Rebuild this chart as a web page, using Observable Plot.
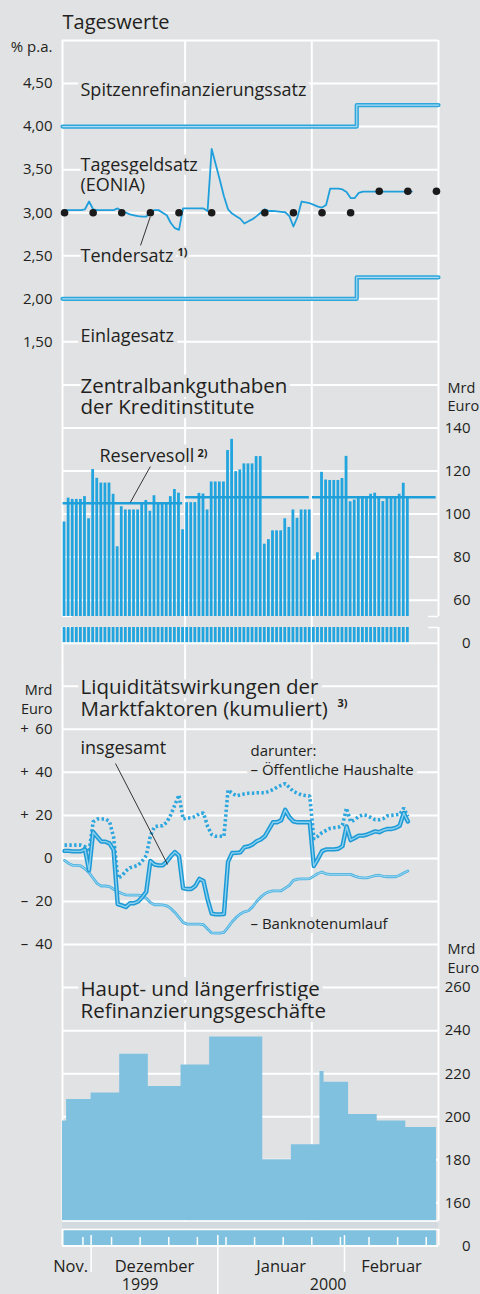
<!DOCTYPE html>
<html><head><meta charset="utf-8">
<script src="https://cdn.jsdelivr.net/npm/d3@7"></script>
<script src="https://cdn.jsdelivr.net/npm/@observablehq/plot@0.6"></script>
<style>
html,body{margin:0;padding:0;background:#e1e2e4;}
#chart{position:relative;width:480px;height:1294px;overflow:hidden;background:#e1e2e4;}
#chart svg{position:absolute;left:0;overflow:visible;}
</style></head><body><div id="chart"></div>
<script>
// ---------------- data ----------------
const startDate = "1999-11-24";           // first day of the daily series
// Tagesgeldsatz (EONIA), % p.a., daily from 24 Nov 1999
const eonia = [3.03,3.03,3.03,3.03,3.03,3.04,3.13,3.04,3.03,3.03,
 3.03,3.03,3.03,3.05,3.02,3.00,2.98,2.97,2.96,2.955,
 2.955,3.01,3.03,3.03,3.00,2.97,2.88,2.82,2.80,3.05,
 3.05,3.05,3.05,3.05,3.05,3.02,3.74,3.56,3.38,3.19,
 3.04,2.99,2.96,2.93,2.875,2.90,2.925,2.96,3.00,3.04,
 3.02,3.02,3.015,3.01,3.005,2.96,2.84,2.95,3.13,3.12,
 3.11,3.09,3.07,3.06,3.09,3.28,3.28,3.28,3.27,3.24,
 3.17,3.17,3.23,3.245,3.245,3.245,3.245,3.245,3.245,3.245,
 3.245,3.245,3.245,3.245,3.245,3.245];
// Tendersatz
const tenderDates = ["1999-11-24","1999-12-01","1999-12-08","1999-12-15","1999-12-22","1999-12-30",
 "2000-01-12","2000-01-19","2000-01-26","2000-02-02","2000-02-09","2000-02-16","2000-02-23"];
const tenderRates = [3.00,3.00,3.00,3.00,3.00,3.00,3.00,3.00,3.00,3.00,3.25,3.25,3.25];
// Spitzenrefinanzierungssatz / Einlagesatz
const rateDates = ["1999-11-24","2000-02-04","2000-02-24"];
const spitzen = [4.00,4.25,4.25];
const einlage = [2.00,2.25,2.25];
const rateTicks = [1.5,2,2.5,3,3.5,4,4.5];

// Zentralbankguthaben der Kreditinstitute, Mrd Euro, daily
const reserves = [96.3,107.4,106.8,106.8,106.8,108.1,97.8,120.7,116.6,114.4,
 114.4,114.4,109.2,84.8,103.4,101.9,101.9,101.9,101.9,104.7,
 106.3,101.3,108.5,104.5,104.5,104.5,108.1,111.4,109.7,92.7,
 105.3,105.3,105.3,109.6,109.3,101.9,114.9,114.9,114.9,114.9,
 129.5,134.7,119.7,120.5,123.3,123.3,123.3,126.7,126.7,86.0,
 88.1,92.2,92.2,92.2,97.8,93.8,101.9,98.0,101.9,101.9,
 101.9,78.6,82.0,119.4,115.8,115.6,115.6,115.6,116.5,126.8,
 105.7,106.5,107.3,107.5,107.5,109.2,109.7,107.5,105.8,107.3,
 107.3,107.3,109.2,114.3,107.3];
// Reservesoll per maintenance period
const periodStarts = ["1999-11-24","1999-12-24","2000-01-24"];
const periodEnds   = ["1999-12-24","2000-01-24","2000-02-24"];
const reserveReq   = [105.0,107.8,107.8];
const reserveTicks = [60,80,100,120,140];

// Liquiditätswirkungen der Marktfaktoren (kumuliert), Mrd Euro, daily
const insgesamt = [3.5,3.5,3.3,3.3,3.3,4.2,-5.5,12.3,10.0,7.8,
 7.8,7.0,4.0,-21.2,-21.8,-22.6,-20.8,-20.8,-20.0,-18.0,
 -15.5,-1.2,-2.8,-3.2,-3.2,-1.5,1.0,3.0,1.2,-13.8,
 -14.2,-14.2,-12.8,-9.5,-10.5,-19.0,-25.6,-26.0,-26.0,-25.8,
 -1.5,2.5,2.6,2.8,5.2,5.6,6.5,8.0,8.8,10.3,
 13.5,16.8,16.8,17.7,22.6,19.2,17.2,16.8,16.8,16.8,
 16.8,-3.5,-0.2,3.4,4.2,4.2,4.2,4.5,5.7,14.9,
 8.5,9.5,10.6,10.6,11.1,11.8,12.6,12.2,13.1,13.7,
 13.7,14.2,15.2,21.1,17.2];
const haushalte = [6.2,6.2,6.2,6.2,6.2,5.5,3.0,17.0,18.3,18.3,
 18.3,17.2,10.0,-9.0,-8.2,-5.8,-4.3,-3.8,-3.2,-1.2,
 1.4,10.5,14.7,15.2,15.2,16.8,20.3,24.9,29.5,18.3,
 18.8,18.8,19.5,20.8,21.1,14.9,11.1,10.3,10.3,10.3,
 31.8,30.3,29.1,29.5,30.0,30.3,30.3,30.5,30.5,30.5,
 31.1,32.0,33.1,34.0,34.8,33.0,31.1,30.3,29.5,29.2,
 29.0,9.1,10.3,12.0,13.0,14.0,14.3,14.5,15.5,23.4,
 17.0,18.0,19.5,20.3,19.9,19.0,18.0,18.0,18.5,19.8,
 20.0,20.3,20.5,23.4,19.5];
const banknoten = [-0.9,-2.3,-3.2,-3.2,-3.5,-4.8,-6.6,-9.2,-11.7,-12.8,
 -12.8,-13.1,-14.3,-15.4,-16.3,-16.9,-17.0,-17.0,-17.0,-17.4,
 -18.5,-20.5,-21.5,-21.5,-21.6,-22.0,-23.2,-25.1,-27.4,-29.7,
 -30.5,-30.5,-30.5,-30.5,-30.8,-32.8,-34.6,-34.7,-34.7,-34.3,
 -32.0,-29.4,-27.4,-25.8,-24.8,-24.3,-22.5,-20.0,-18.0,-16.4,
 -15.5,-15.1,-15.1,-15.0,-13.8,-12.5,-10.2,-9.6,-9.5,-9.5,
 -9.4,-8.2,-7.0,-6.3,-7.2,-7.4,-7.4,-7.4,-7.4,-7.4,
 -7.4,-8.2,-8.8,-9.0,-9.0,-8.5,-8.0,-7.8,-8.3,-8.5,
 -8.5,-8.5,-7.8,-6.8,-5.8];
const liqTicks = [-40,-20,0,20,40,60];

// Haupt- und längerfristige Refinanzierungsgeschäfte, Mrd Euro (step values)
const refiStarts = ["1999-11-24","1999-11-25","1999-12-01","1999-12-08","1999-12-15","1999-12-23","1999-12-30",
 "2000-01-12","2000-01-19","2000-01-26","2000-01-27","2000-02-02","2000-02-09","2000-02-16"];
const refiValues = [198,208,211,229,214,224,237,180,187,221,216,201,198,195];
const refiEnd = "2000-02-23T12:00Z";
const refiTicks = [160,180,200,220,240,260];

const monthLabels = ["Nov.","Dezember","Januar","Februar"];
const yearLabels = ["1999","2000"];

// ---------------- layout ----------------
const W = 480, ML = 62, MR = 42;
const G0 = 40, S = 43.05;            // page y of top grid line, grid spacing
const DAY = 864e5;
const parse = s => new Date(s.length === 10 ? s + "T00:00Z" : s);
const t0 = +parse(startDate);
const day = i => new Date(t0 + i * DAY);
const BG = "#e1e2e4", GRID = "#ffffff", INK = "#231f20";
const BLUE = "#22a5de", LIGHT = "#80c1e0";
const FONT = "'Open Sans', 'Noto Sans', sans-serif";

const bounds = [...periodStarts, periodEnds[periodEnds.length - 1]].map(parse);
const inner = bounds.slice(1, -1), edges = [bounds[0], bounds[bounds.length - 1]];

const root = document.getElementById("chart");
function panel(top, height, ref, marks) {
  const [v0, p0, u] = ref; // value v0 sits at page y p0; u = value units per px
  const dom = [v0 + (p0 - (top + height)) * u, v0 + (p0 - top) * u];
  const svg = Plot.plot({
    width: W, height, marginLeft: ML, marginRight: MR, marginTop: 0, marginBottom: 0,
    x: {type: "utc", domain: [day(0), day(92)], axis: null},
    y: {domain: dom, axis: null},
    style: {background: "transparent", fontFamily: FONT, fontSize: "15px", color: INK, overflow: "visible"},
    marks: marks(dom, top)
  });
  svg.style.top = top + "px";
  root.appendChild(svg);
  return svg;
}
const lab = (top, str, px, py, o = {}) => Plot.text([str], {
  text: d => d, frameAnchor: "top-left", dx: px - ML, dy: py - top,
  textAnchor: "start", lineAnchor: "middle", fill: INK, fontSize: 18,
  stroke: BG, strokeWidth: 8, strokeLinejoin: "round", paintOrder: "stroke", ...o
});
const plain = {stroke: null, strokeWidth: 0};
const mid = i => day(i + 0.5);

// ---------- Panel 1: Tageswerte ----------
const rates = rateDates.map((d, i) => ({date: parse(d), spitzen: spitzen[i], einlage: einlage[i]}));
const tender = tenderDates.map((d, i) => ({date: new Date(+parse(d) + DAY / 2), rate: tenderRates[i]}));
panel(0, 363, [3, G0 + 4 * S, 0.5 / S], (dom, top) => [
  Plot.ruleY([...rateTicks, 5], {stroke: GRID, strokeWidth: 2}),
  Plot.ruleX(bounds, {y1: 5, y2: dom[0], stroke: GRID, strokeWidth: 2}),
  lab(top, "Tageswerte", 62, 22, {fontSize: 20, ...plain}),
  lab(top, "% p.a.", 52, 46.5, {fontSize: 15, textAnchor: "end", ...plain}),
  Plot.text(rateTicks, {y: d => d, text: d => d.toFixed(2).replace(".", ","), frameAnchor: "left", dx: -10, textAnchor: "end", fill: INK, fontSize: 15}),
  lab(top, "Spitzenrefinanzierungssatz", 80, 90),
  lab(top, "Tagesgeldsatz\n(EONIA)", 80, 174.5, {lineHeight: 1.11}),
  lab(top, "Tendersatz", 80, 255.5),
  lab(top, "1)", 177, 252, {fontSize: 11, fontWeight: "bold", strokeWidth: 4}),
  lab(top, "Einlagesatz", 80, 335.5),
  Plot.line(rates, {x: "date", y: "spitzen", curve: "step-after", stroke: "#2ea6dc", strokeWidth: 4.2}),
  Plot.line(rates, {x: "date", y: "spitzen", curve: "step-after", stroke: "#a9dbf2", strokeWidth: 1.2}),
  Plot.line(rates, {x: "date", y: "einlage", curve: "step-after", stroke: "#2ea6dc", strokeWidth: 4.2}),
  Plot.line(rates, {x: "date", y: "einlage", curve: "step-after", stroke: "#a9dbf2", strokeWidth: 1.2}),
  Plot.line(eonia, {x: (d, i) => mid(i), y: d => d, stroke: "#1e9fdb", strokeWidth: 1.8, strokeLinejoin: "round"}),
  Plot.dot(tender, {x: "date", y: "rate", r: 3.8, fill: "#1b1b1b", stroke: null}),
  Plot.link([{a: day(19.1), b: 2.62, c: day(21.45), d: 2.95}], {x1: "a", y1: "b", x2: "c", y2: "d", stroke: INK, strokeWidth: 0.9})
]);

// ---------- Panel 2: Zentralbankguthaben ----------
const ref2 = [100, G0 + 11 * S, 20 / S];
const BREAK2 = 100 + (G0 + 11 * S - 616) * 20 / S;
const periods = periodStarts.map((s, i) => ({start: new Date(+parse(s) + 0.15 * DAY), end: new Date(+parse(periodEnds[i]) - 0.6 * DAY), req: reserveReq[i]}));
const bar = {x1: (d, i) => day(i), x2: (d, i) => day(i + 1), fill: BLUE, insetLeft: 0.65, insetRight: 0.65};
panel(363, 264, ref2, (dom, top) => [
  Plot.ruleY([...reserveTicks, 160], {stroke: GRID, strokeWidth: 2}),
  Plot.ruleX(inner, {stroke: GRID, strokeWidth: 2}),
  Plot.ruleX(edges, {y1: BREAK2, y2: dom[1], stroke: GRID, strokeWidth: 2}),
  Plot.ruleY([BREAK2], {x1: day(0), x2: day(2.4), stroke: GRID, strokeWidth: 1.5}),
  Plot.ruleY([BREAK2], {x1: day(89.6), x2: day(92), stroke: GRID, strokeWidth: 1.5}),
  lab(top, "Zentralbankguthaben\nder Kreditinstitute", 80, 396, {fontSize: 20.5, lineHeight: 1.03}),
  lab(top, "Mrd\nEuro", 447, 395.7, {fontSize: 14.5, lineHeight: 1.27, ...plain}),
  Plot.text(reserveTicks, {y: d => d, text: d => String(d), frameAnchor: "right", dx: 32, textAnchor: "end", fill: INK, fontSize: 15}),
  Plot.rect(reserves, {...bar, y1: BREAK2, y2: d => d}),
  lab(top, "Reservesoll", 99, 455.5),
  lab(top, "2)", 197, 452.5, {fontSize: 11, fontWeight: "bold", strokeWidth: 4}),
  Plot.ruleY(periods, {y: "req", x1: "start", x2: "end", stroke: "#1d9fda", strokeWidth: 2.6}),
  Plot.link([{a: day(21.5), b: 122.1, c: day(16.6), d: 105.4}], {x1: "a", y1: "b", x2: "c", y2: "d", stroke: INK, strokeWidth: 0.9})
]);
panel(627, 38, [0, G0 + 14 * S, 20 / S], (dom, top) => [
  Plot.ruleX(bounds, {stroke: GRID, strokeWidth: 2}),
  Plot.ruleY([dom[1]], {x1: day(0), x2: day(2.4), stroke: GRID, strokeWidth: 1.5}),
  Plot.ruleY([dom[1]], {x1: day(89.6), x2: day(92), stroke: GRID, strokeWidth: 1.5}),
  Plot.rect(reserves, {...bar, y1: 0, y2: d => Math.min(d, dom[1])}),
  Plot.ruleY([0], {stroke: GRID, strokeWidth: 2}),
  Plot.text([0], {y: d => d, text: d => String(d), frameAnchor: "right", dx: 32, textAnchor: "end", fill: INK, fontSize: 15})
]);

// ---------- Panel 3: Liquiditätswirkungen ----------
const liq = insgesamt.map((v, i) => ({date: mid(i), ins: v, oeh: haushalte[i], bnu: banknoten[i]}));
panel(665, 301, [0, G0 + 19 * S, 20 / S], (dom, top) => [
  Plot.ruleY([...liqTicks, 80], {stroke: GRID, strokeWidth: 2}),
  Plot.ruleX(bounds, {stroke: GRID, strokeWidth: 2}),
  lab(top, "Mrd\nEuro", 52, 697.7, {fontSize: 14.5, lineHeight: 1.3, textAnchor: "end", ...plain}),
  Plot.text(liqTicks, {y: d => d, text: d => String(Math.abs(d)), frameAnchor: "left", dx: -10, textAnchor: "end", fill: INK, fontSize: 15}),
  Plot.text(liqTicks.filter(d => d !== 0), {y: d => d, text: d => d > 0 ? "+" : "\u2013", frameAnchor: "left", dx: -38, textAnchor: "middle", fill: INK, fontSize: 15}),
  lab(top, "Liquiditätswirkungen der\nMarktfaktoren (kumuliert)", 80, 697, {fontSize: 20.5, lineHeight: 1.07}),
  lab(top, "3)", 337, 703, {fontSize: 11, fontWeight: "bold", strokeWidth: 4}),
  lab(top, "insgesamt", 80, 747.5),
  lab(top, "darunter:\n\u2013 Öffentliche Haushalte", 250, 758.5, {fontSize: 15, lineHeight: 1.27}),
  lab(top, "\u2013 Banknotenumlauf", 250, 923.5, {fontSize: 15}),
  Plot.line(liq, {x: "date", y: "oeh", stroke: "#2ba6de", strokeWidth: 3.6, strokeDasharray: "2.4,2.4", strokeLinecap: "butt", strokeLinejoin: "miter"}),
  Plot.line(liq, {x: "date", y: "bnu", stroke: "#4cb3e2", strokeWidth: 2.8, strokeLinejoin: "round"}),
  Plot.line(liq, {x: "date", y: "bnu", stroke: "#a9dbf2", strokeWidth: 0.9, strokeLinejoin: "round"}),
  Plot.line(liq, {x: "date", y: "ins", stroke: "#1d9ad6", strokeWidth: 4.4, strokeLinejoin: "round"}),
  Plot.line(liq, {x: "date", y: "ins", stroke: "#8ad0ef", strokeWidth: 1.4, strokeLinejoin: "round"}),
  Plot.link([{a: day(12.97), b: 44.1, c: day(25.7), d: -2.8}], {x1: "a", y1: "b", x2: "c", y2: "d", stroke: INK, strokeWidth: 0.9})
]);

// ---------- Panel 4: Refinanzierungsgeschäfte ----------
const refi = refiStarts.map((s, i) => ({date: parse(s), value: refiValues[i]}));
refi.push({date: parse(refiEnd), value: refiValues[refiValues.length - 1]});
const BREAK4 = 200 + (G0 + 25 * S - 1220.5) * 20 / S;
panel(966, 263, [200, G0 + 25 * S, 20 / S], (dom, top) => [
  Plot.ruleY(refiTicks, {stroke: GRID, strokeWidth: 2}),
  Plot.ruleX(inner, {stroke: GRID, strokeWidth: 2}),
  Plot.ruleX(edges, {y1: BREAK4, y2: dom[1], stroke: GRID, strokeWidth: 2}),
  lab(top, "Mrd\nEuro", 447, 957, {fontSize: 14.5, lineHeight: 1.27, ...plain}),
  Plot.text(refiTicks, {y: d => d, text: d => String(d), frameAnchor: "right", dx: 32, textAnchor: "end", fill: INK, fontSize: 15}),
  lab(top, "Haupt- und längerfristige\nRefinanzierungsgeschäfte", 80, 999, {fontSize: 20.5, lineHeight: 1.07}),
  Plot.areaY(refi, {x: "date", y1: BREAK4, y2: "value", curve: "step-after", fill: LIGHT}),
  Plot.ruleY([(BREAK4 + dom[0]) / 2], {stroke: "#d3dadf", strokeWidth: 7}),
  Plot.ruleY([BREAK4], {stroke: GRID, strokeWidth: 1.5})
]);
panel(1229, 65, [0, G0 + 28 * S, 20 / S], (dom, top) => {
  const months = d3.utcMonth.range(day(0), day(92));
  const mEdges = [day(0), ...months, day(92)];
  const mt = monthLabels.map((m, i) => ({m, a: mEdges[i], b: mEdges[i + 1]}));
  const yEdges = [day(0), months.find(d => d.getUTCMonth() === 0), day(92)];
  const yt = yearLabels.map((y, i) => ({y, c: new Date((+yEdges[i] + +yEdges[i + 1]) / 2)}));
  return [
    Plot.areaY(refi, {x: "date", y1: 0, y2: d => Math.min(d.value, dom[1]), curve: "step-after", fill: LIGHT}),
    Plot.ruleY([dom[1]], {stroke: GRID, strokeWidth: 1.5}),
    Plot.ruleY([0], {stroke: GRID, strokeWidth: 2}),
    Plot.ruleX(edges, {y1: 0, y2: dom[1], stroke: GRID, strokeWidth: 2}),
    Plot.ruleX(d3.utcMonday.range(day(0), day(92)), {y1: 0, y2: 3.9, stroke: GRID, strokeWidth: 1.5}),
    Plot.ruleX(months, {y1: 4.8, y2: d => d.getUTCMonth() === 0 ? dom[0] : -12.3, stroke: GRID, strokeWidth: 1.5}),
    Plot.text([0], {y: d => d, text: d => String(d), frameAnchor: "right", dx: 32, textAnchor: "end", fill: INK, fontSize: 15}),
    Plot.text(mt.slice(0, 1), {x: "b", y: -9.6, text: "m", textAnchor: "end", dx: -3, fill: INK, fontSize: 16.5}),
    Plot.text(mt.slice(1), {x: d => new Date((+d.a + +d.b) / 2), y: -9.6, text: "m", fill: INK, fontSize: 16.5}),
    Plot.text(yt, {x: "c", y: -18.3, text: "y", fill: INK, fontSize: 16})
  ];
});
</script></body></html>
